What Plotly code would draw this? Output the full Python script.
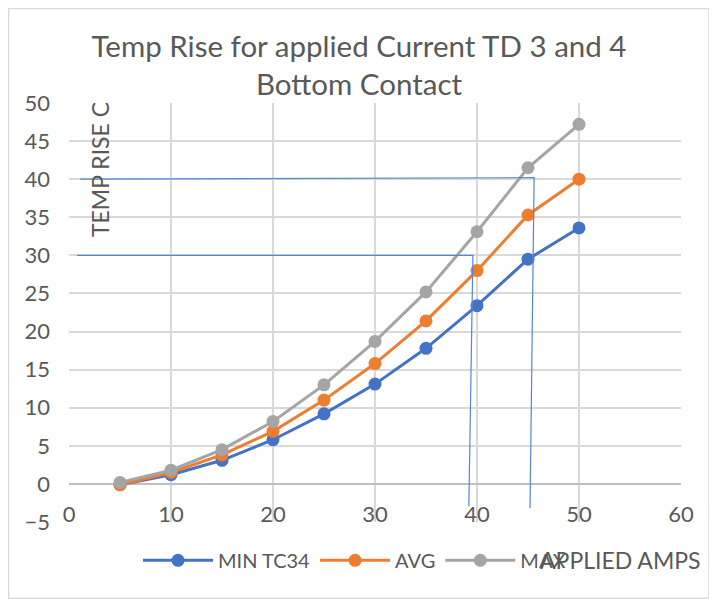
import plotly.graph_objects as go

# ---- data ----
amps = [5, 10, 15, 20, 25, 30, 35, 40, 45, 50]
min_tc34 = [-0.1, 1.2, 3.1, 5.8, 9.2, 13.1, 17.8, 23.4, 29.5, 33.6]
avg = [-0.1, 1.5, 3.8, 6.9, 11.0, 15.8, 21.4, 28.0, 35.3, 40.0]
max_t = [0.2, 1.8, 4.5, 8.2, 13.0, 18.7, 25.2, 33.1, 41.5, 47.2]

# hand-drawn guide lines in the reference (data coords)
guide40_x = [1.1, 45.6, 45.2]
guide40_y = [40.0, 40.2, -3.2]
guide30_x = [0.8, 39.6, 39.2]
guide30_y = [30.0, 30.0, -2.9]

x_ticks = [0, 10, 20, 30, 40, 50, 60]
y_ticks = [-5, 0, 5, 10, 15, 20, 25, 30, 35, 40, 45, 50]

FONT = "Lato"
TXT = "#595959"

W, H = 709, 591
L, T, R, B = 61, 95, 673, 513.7
PW, PH = R - L, B - T

def px(xf):
    return (xf - L) / PW

def py(yf):
    return (B - yf) / PH

fig = go.Figure()
series = [("MIN TC34", min_tc34, "#4472C4"),
          ("AVG", avg, "#ED7D31"),
          ("MAX", max_t, "#A5A5A5")]
for name, ys, col in series:
    fig.add_trace(go.Scatter(x=amps, y=ys, name=name, mode="lines+markers",
                             line=dict(color=col, width=3),
                             marker=dict(color=col, size=13)))

for gx, gy in [(guide40_x, guide40_y), (guide30_x, guide30_y)]:
    fig.add_trace(go.Scatter(x=gx, y=gy, mode="lines", showlegend=False,
                             hoverinfo="skip",
                             line=dict(color="#5585D8", width=1.2)))

fig.update_layout(
    width=W, height=H,
    margin=dict(l=L, r=W - R, t=T, b=H - B),
    paper_bgcolor="white", plot_bgcolor="white",
    font=dict(family=FONT, color=TXT, size=20),
    title=dict(text="Temp Rise for applied Current TD 3 and 4<br>Bottom Contact",
               x=351 / W, xanchor="center", y=0.917, yanchor="top",
               font=dict(family=FONT, size=29.5, color=TXT)),
    showlegend=True,
    legend=dict(orientation="h", x=px(130), xanchor="left", y=py(552),
                yanchor="middle", font=dict(size=20, color=TXT),
                itemwidth=70, bgcolor="rgba(0,0,0,0)"),
)
fig.update_xaxes(range=[0, 60], tickvals=x_ticks, showgrid=True,
                 gridcolor="#D9D9D9", gridwidth=2, zeroline=False,
                 showline=False, ticks="", ticklabelstandoff=-23,
                 tickfont=dict(size=22, color=TXT))
fig.update_yaxes(range=[-5, 50], tickvals=y_ticks, showgrid=True,
                 gridcolor="#D9D9D9", gridwidth=2, zeroline=True,
                 zerolinecolor="#BFBFBF", zerolinewidth=2,
                 showline=False, ticks="", ticklabelstandoff=18,
                 tickfont=dict(size=22, color=TXT))

fig.add_annotation(text="TEMP RISE C", xref="paper", yref="paper",
                   x=px(92), y=py(162), textangle=-90,
                   xanchor="center", yanchor="middle",
                   showarrow=False, font=dict(size=23, color=TXT))
fig.add_annotation(text="APPLIED AMPS", xref="paper", yref="paper",
                   x=px(612), y=py(552),
                   xanchor="center", yanchor="middle",
                   showarrow=False, font=dict(size=23, color=TXT))
fig.add_shape(type="rect", xref="paper", yref="paper",
              x0=px(0.5), x1=px(701), y0=py(590), y1=py(0.5),
              line=dict(color="#D9D9D9", width=1.5), layer="below")

fig.write_html("out.html")
